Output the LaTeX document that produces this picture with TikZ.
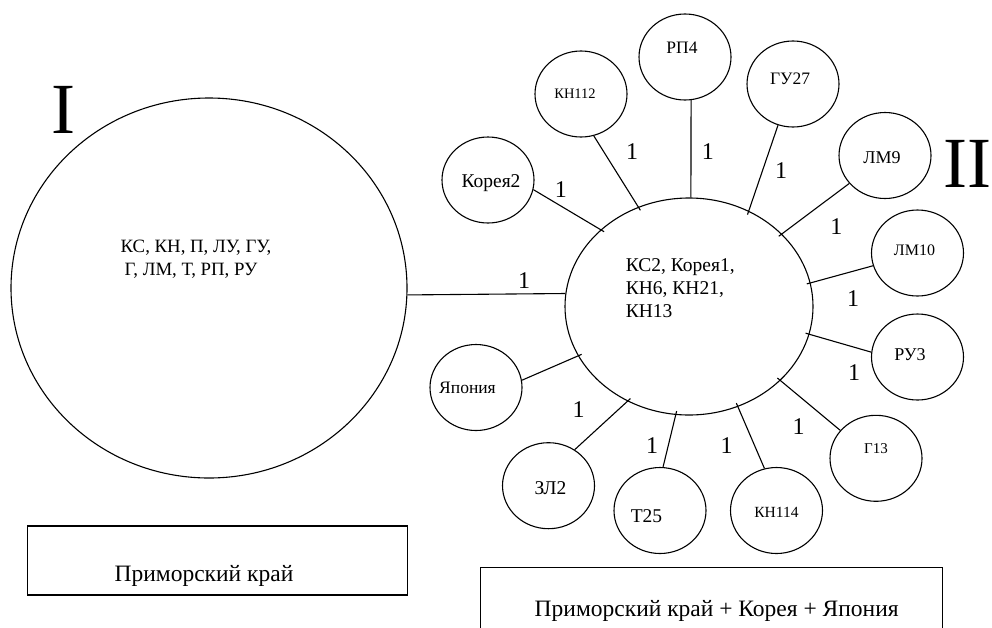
\documentclass[tikz,border=0pt]{standalone}
\usepackage{fontspec}
\setmainfont{Liberation Serif}
\usetikzlibrary{shapes.geometric}
\newcommand{\fsz}[1]{\fontsize{#1}{#1}\selectfont}

\begin{document}
\begin{tikzpicture}[x=1pt,y=-1pt,line width=1.1pt,
        region/.style={ellipse,draw,inner sep=0pt},
        sat/.style={ellipse,draw,inner sep=0pt,minimum width=92pt,minimum height=86pt},
        link/.style={shorten >=-4pt},
        wt/.style={inner sep=0pt,font=\fsz{24}},
        areabox/.style={rectangle,draw,inner sep=0pt,minimum height=69pt}]
        \useasboundingbox (0,0) rectangle (992,627);
        \clip (0,0) rectangle (992,627);

        \node[inner sep=0pt,font=\fsz{72}] (num1) at (63.2,110) {I};
        \node[inner sep=0pt,font=\fsz{72}] (num2) at (967.5,163.8) {II};

        \node[region,minimum width=396pt,minimum height=380pt,
            label={[align=left,font=\fontsize{18.8}{23.3}\selectfont,xshift=-13pt,yshift=28.6pt]center:КС, КН, П, ЛУ, ГУ,\\\hspace*{4pt}Г, ЛМ, Т, РП, РУ}] (reg1) at (209,288) {};
        \node[region,minimum width=248pt,minimum height=217pt,
            label={[align=left,font=\fontsize{19.5}{23}\selectfont,xshift=-8.7pt,yshift=18.4pt]center:КС2, Корея1,\\КН6, КН21,\\КН13}] (reg2) at (689,306.5) {};

        \node[sat,label={[font=\fsz{19.5},xshift=3pt,yshift=-2.8pt]center:Корея2}] (korea2) at (488,180) {};
        \node[sat,label={[font=\fsz{14.5},xshift=-6pt]center:КН112}] (kn112) at (581,94) {};
        \node[sat,label={[font=\fsz{17.5},xshift=-3pt,yshift=9pt]center:РП4}] (rp4) at (685,57) {};
        \node[sat,label={[font=\fsz{17.5},xshift=-3pt,yshift=5.5pt]center:ГУ27}] (gu27) at (793,84) {};
        \node[sat,label={[font=\fsz{18},xshift=-3pt,yshift=-2pt]center:ЛМ9}] (lm9) at (885,155.5) {};
        \node[sat,label={[font=\fsz{16},xshift=-3pt,yshift=3pt]center:ЛМ10}] (lm10) at (917.5,253) {};
        \node[sat,label={[font=\fsz{18},xshift=-7.5pt,yshift=2pt]center:РУ3}] (ru3) at (917.5,357) {};
        \node[sat,label={[font=\fsz{15},yshift=10pt]center:Г13}] (g13) at (876,458.3) {};
        \node[sat,label={[font=\fsz{15.5},yshift=-1.5pt]center:КН114}] (kn114) at (776.5,510.5) {};
        \node[sat,label={[font=\fsz{19.5},xshift=-13.5pt,yshift=-5.5pt]center:Т25}] (t25) at (660,510.5) {};
        \node[sat,label={[font=\fsz{19.5},xshift=2pt,yshift=-2pt]center:ЗЛ2}] (zl2) at (548.5,485.7) {};
        \node[sat,label={[font=\fsz{17.5},xshift=-8.5pt]center:Япония}] (japan) at (476,387.5) {};

        \draw (reg1.-2) -- (reg2.174.7);
        \draw[link] (korea2.-12.3) -- (reg2.139);
        \draw[link] (kn112.-73) -- (reg2.117.6);
        \draw (rp4.-82) -- (reg2.89);
        \draw[link] (gu27.-110) -- (reg2.58.7);
        \draw[link] (lm9.-142.7) -- (reg2.38.7);
        \draw[link] (lm10.-164) -- (reg2.11.7);
        \draw[link] (ru3.174) -- (reg2.-13.3);
        \draw[link] (g13.142) -- (reg2.-39.5);
        \draw[link] (kn114.106.5) -- (reg2.-64);
        \draw[link] (t25.86.4) -- (reg2.-97.9);
        \draw[link] (zl2.54.5) -- (reg2.-123.5);
        \draw[link] (japan.9) -- (reg2.-156.7);

        \node[wt] (w1) at (524,281) {1};
        \node[wt] (w2) at (560.8,189.5) {1};
        \node[wt] (w3) at (632,152) {1};
        \node[wt] (w4) at (707.8,152) {1};
        \node[wt] (w5) at (781,171) {1};
        \node[wt] (w6) at (836.3,226.7) {1};
        \node[wt] (w7) at (853,298.7) {1};
        \node[wt] (w8) at (854,372.5) {1};
        \node[wt] (w9) at (798.5,427) {1};
        \node[wt] (w10) at (726.5,446) {1};
        \node[wt] (w11) at (652,446) {1};
        \node[wt] (w12) at (578.5,409.5) {1};

        \node[areabox,minimum width=379.6pt,
            label={[font=\fsz{23.5},xshift=-13.5pt,yshift=-15.8pt]center:Приморский край}] (box1) at (217.5,560.5) {};
        \node[areabox,minimum width=462.5pt,minimum height=100pt,
            label={[font=\fsz{23.5},xshift=5.4pt,yshift=6.4pt]center:Приморский край + Корея + Япония}] (box2) at (711.3,617.7) {};
    \end{tikzpicture}
\end{document}
